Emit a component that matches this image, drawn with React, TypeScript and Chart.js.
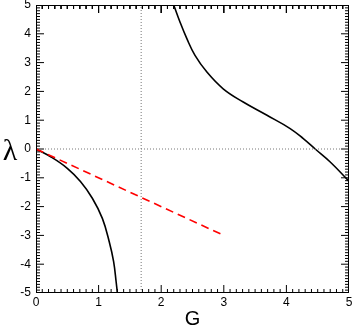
import React, { useEffect, useRef } from "react";
import { Chart, registerables } from "chart.js";

Chart.register(...registerables);

// Branch 1 of the black curve (G, lambda)
const G1 = [0, 0.235, 0.5, 0.71, 0.9, 1.06, 1.17, 1.24, 1.28, 1.3];
const L1 = [0, -0.27, -0.67, -1.13, -1.71, -2.41, -3.22, -3.91, -4.61, -5.0];
// Branch 2 of the black curve
const G2 = [2.2, 2.3, 2.41, 2.54, 2.73, 2.99, 3.31, 3.69, 4.06, 4.27, 4.46, 4.7, 4.96, 5.0];
const L2 = [5.0, 4.41, 3.83, 3.25, 2.67, 2.09, 1.63, 1.17, 0.71, 0.36, 0.0, -0.45, -1.03, -1.13];
// Red dashed line
const GR = [0, 2.95];
const LR = [0, -2.95];
// Dotted reference lines
const VLINE_G = 1.68;
const HLINE_L = 0;
const X_MIN = 0, X_MAX = 5, Y_MIN = -5, Y_MAX = 5;
const MINOR_STEP = 0.1;

const pts = (xs: number[], ys: number[]) => xs.map((x, i) => ({ x, y: ys[i] }));

// Inward axis tick marks (all four sides), built as gap-separated line segments
function tickSegments(): { x: number; y: number | null }[] {
  const out: { x: number; y: number | null }[] = [];
  const xLenMinor = 4 / 28.8, xLenMajor = 8 / 28.8; // in lambda units
  const yLenMinor = 4 / 62.6, yLenMajor = 8 / 62.6; // in G units
  const nx = Math.round((X_MAX - X_MIN) / MINOR_STEP);
  for (let i = 0; i <= nx; i++) {
    const v = X_MIN + i * MINOR_STEP;
    const len = i % 10 === 0 ? xLenMajor : xLenMinor;
    out.push({ x: v, y: Y_MIN }, { x: v, y: Y_MIN + len }, { x: v, y: null });
    out.push({ x: v, y: Y_MAX }, { x: v, y: Y_MAX - len }, { x: v, y: null });
  }
  const ny = Math.round((Y_MAX - Y_MIN) / MINOR_STEP);
  for (let j = 0; j <= ny; j++) {
    const v = Y_MIN + j * MINOR_STEP;
    const len = j % 10 === 0 ? yLenMajor : yLenMinor;
    out.push({ x: X_MIN, y: v }, { x: X_MIN + len, y: v }, { x: X_MIN + len, y: null });
    out.push({ x: X_MAX, y: v }, { x: X_MAX - len, y: v }, { x: X_MAX - len, y: null });
  }
  return out;
}

const framePlugin = {
  id: "frameLabels",
  afterDraw(chart: any) {
    const ctx: CanvasRenderingContext2D = chart.ctx;
    const a = chart.chartArea;
    ctx.save();
    const L = Math.round(a.left), R = Math.round(a.right) - 1;
    const T = Math.round(a.top), B = Math.round(a.bottom) - 1;
    ctx.fillStyle = "#000000";
    ctx.fillRect(L, T, R - L + 1, 1);
    ctx.fillRect(L, B, R - L + 1, 1);
    ctx.fillRect(L, T, 1, B - T + 1);
    ctx.fillRect(R, T, 1, B - T + 1);
    ctx.textAlign = "center";
    ctx.textBaseline = "alphabetic";
    ctx.font = "30px 'Liberation Serif'";
    ctx.fillText("λ", 10, 160);
    ctx.font = "20px 'Liberation Sans'";
    ctx.fillText("G", (a.left + a.right) / 2, 325);
    ctx.restore();
  },
};

export default function App() {
  const ref = useRef<HTMLCanvasElement>(null);
  useEffect(() => {
    if (!ref.current) return;
    const chart = new Chart(ref.current, {
      type: "line",
      data: {
        datasets: [
          {
            data: [{ x: X_MIN, y: HLINE_L }, { x: X_MAX, y: HLINE_L }],
            borderColor: "#777",
            borderWidth: 1,
            borderDash: [1, 2],
            pointRadius: 0,
          },
          {
            data: [{ x: VLINE_G, y: Y_MIN }, { x: VLINE_G, y: Y_MAX }],
            borderColor: "#777",
            borderWidth: 1,
            borderDash: [1, 2],
            pointRadius: 0,
          },
          {
            data: pts(GR, LR),
            borderColor: "#ff0000",
            borderWidth: 1.6,
            borderDash: [8, 5],
            pointRadius: 0,
          },
          {
            data: pts(G1, L1),
            borderColor: "#000",
            borderWidth: 1.6,
            pointRadius: 0,
            tension: 0.4,
          },
          {
            data: pts(G2, L2),
            borderColor: "#000",
            borderWidth: 1.6,
            pointRadius: 0,
            tension: 0.4,
          },
          {
            data: tickSegments(),
            borderColor: "#000",
            borderWidth: 1,
            pointRadius: 0,
            spanGaps: false,
            tension: 0,
          },
        ],
      },
      options: {
        animation: false,
        responsive: false,
        events: [],
        layout: { padding: { left: 0, right: 5, top: 5, bottom: 0 } },
        plugins: { legend: { display: false }, tooltip: { enabled: false } },
        scales: {
          x: {
            type: "linear",
            min: X_MIN,
            max: X_MAX,
            grid: { display: false, drawTicks: false },
            border: { display: false },
            ticks: {
              stepSize: 1,
              padding: 2,
              color: "#000",
              maxRotation: 0,
              font: { family: "'Liberation Sans'", size: 12 },
            },
            afterFit: (s: any) => {
              s.height = 35;
              s.paddingLeft = 0;
              s.paddingRight = 0;
            },
          },
          y: {
            type: "linear",
            min: Y_MIN,
            max: Y_MAX,
            grid: { display: false, drawTicks: false },
            border: { display: false },
            ticks: {
              stepSize: 1,
              padding: 5,
              color: "#000",
              font: { family: "'Liberation Sans'", size: 12 },
            },
            afterFit: (s: any) => {
              s.width = 36;
              s.paddingTop = 0;
              s.paddingBottom = 0;
            },
          },
        },
      },
      plugins: [framePlugin],
    });
    return () => chart.destroy();
  }, []);
  return (
    <div style={{ position: "absolute", left: 0, top: 0, width: 354, height: 328, background: "#fff" }}>
      <canvas ref={ref} width={354} height={328} style={{ display: "block" }} />
    </div>
  );
}
